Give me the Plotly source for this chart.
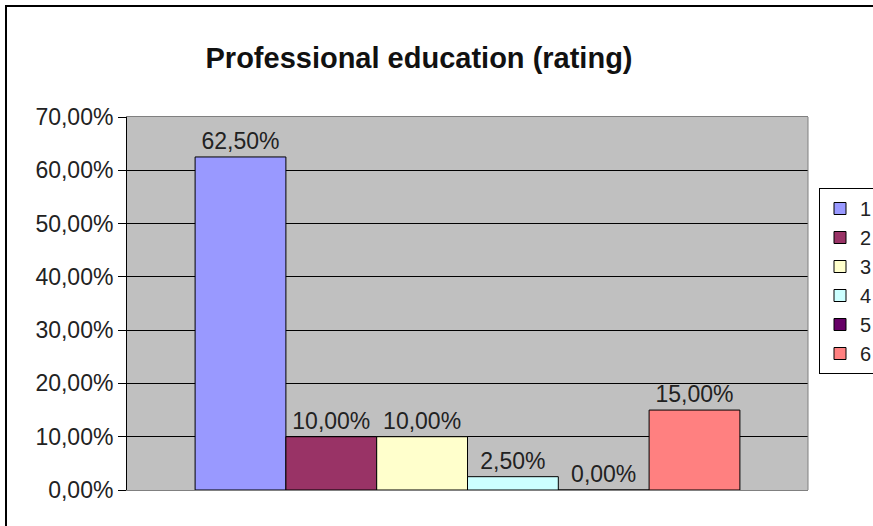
import plotly.graph_objects as go

# Data
series_names = ["1", "2", "3", "4", "5", "6"]
values = [0.625, 0.10, 0.10, 0.025, 0.0, 0.15]
colors = ["#9999FF", "#993366", "#FFFFCC", "#CCFFFF", "#660066", "#FF8080"]
category = ["Professional education"]
y_ticks = [0, 0.1, 0.2, 0.3, 0.4, 0.5, 0.6, 0.7]

W, H = 873, 526
L, R, T, B = 127, 808, 117, 490  # plot area pixels

FONT = "Liberation Sans, Arial, sans-serif"

fig = go.Figure()
for i, (name, v, c) in enumerate(zip(series_names, values, colors)):
    fig.add_trace(go.Bar(
        x=category, y=[v], name=name,
        marker=dict(color=c, line=dict(color="#000000", width=1)),
        texttemplate="%{y:.2%}", textposition="outside",
        textfont=dict(family=FONT, size=23, color="#222222"),
        cliponaxis=False, legendgroup=name,
    ))

def px_x(p):
    return (p - L) / (R - L)

def px_y(p):
    return (B - p) / (B - T)

fig.update_layout(
    width=W, height=H,
    margin=dict(l=L, r=W - R, t=T, b=H - B, autoexpand=False),
    paper_bgcolor="#FFFFFF",
    plot_bgcolor="#C0C0C0",
    separators=", ",
    barmode="group", bargap=0.2, bargroupgap=0,
    font=dict(family=FONT, size=23, color="#222222"),
    title=dict(text="<b>Professional education (rating)</b>",
               font=dict(family=FONT, size=29, color="#111111"),
               xref="container", x=419 / W, xanchor="center",
               yref="container", y=1 - 58 / H, yanchor="middle"),
    xaxis=dict(showticklabels=False, ticks="", showgrid=False,
               showline=True, linecolor="#808080", linewidth=1, mirror=True,
               zeroline=False),
    yaxis=dict(range=[0, 0.7], tickvals=y_ticks, tickformat=".2%",
               showgrid=True, gridcolor="#000000", gridwidth=1,
               zeroline=False, showline=True, linecolor="#000000", linewidth=1,
               ticks="outside", ticklen=8, tickcolor="#000000",
               tickfont=dict(family=FONT, size=23, color="#222222")),
    legend=dict(x=px_x(819), xanchor="left", y=px_y(188), yanchor="top",
                bgcolor="#FFFFFF", bordercolor="#000000", borderwidth=1,
                font=dict(family=FONT, size=20, color="#222222"),
                itemwidth=30, tracegroupgap=0, traceorder="normal"),
    showlegend=True,
    shapes=[
        # right border of plot area
        dict(type="line", xref="paper", yref="paper", x0=1, x1=1, y0=0, y1=1,
             line=dict(color="#808080", width=1), layer="above"),
        # outer chart frame
        dict(type="rect", xref="paper", yref="paper",
             x0=px_x(6), x1=px_x(885), y0=px_y(540), y1=px_y(6),
             line=dict(color="#000000", width=2), layer="above"),
    ],
)

fig.write_html("out.html")
